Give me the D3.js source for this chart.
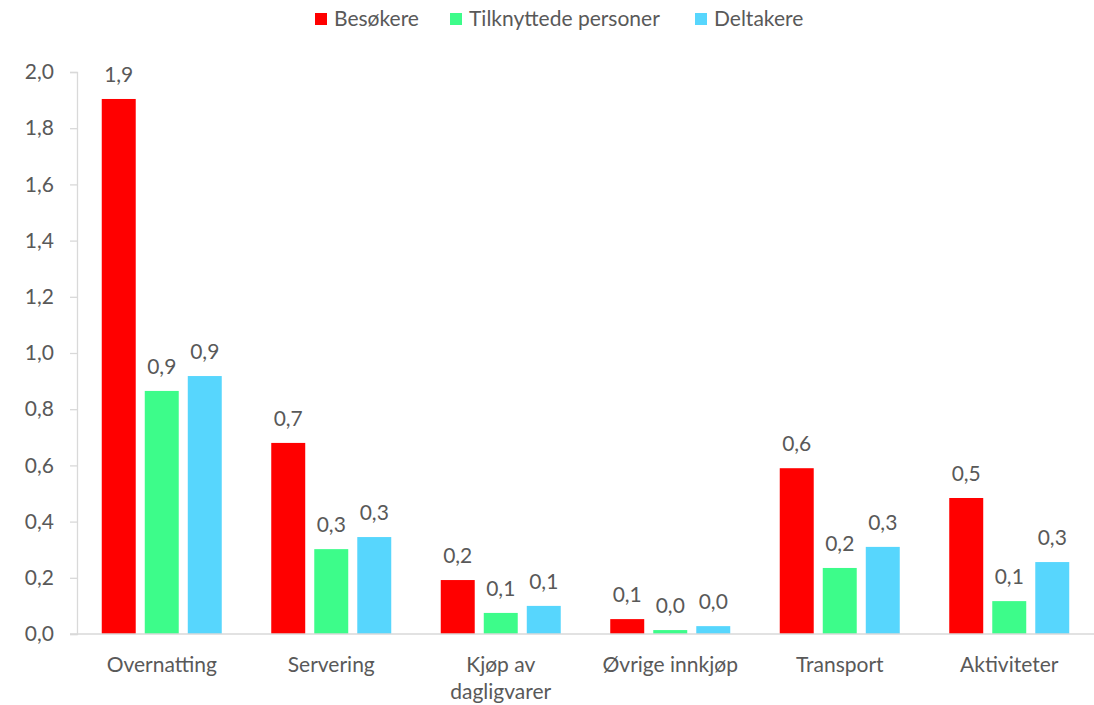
<!DOCTYPE html>
<html>
<head>
<meta charset="utf-8">
<script src="https://cdn.jsdelivr.net/npm/d3@7"></script>
<style>
  html, body { margin: 0; padding: 0; background: #fff; }
  svg text { font-family: Lato, "Open Sans", sans-serif; fill: #595959; }
</style>
</head>
<body>
<div id="chart"></div>
<script>
// Data
const categories = ['Overnatting', 'Servering', 'Kjøp av\ndagligvarer', 'Øvrige innkjøp', 'Transport', 'Aktiviteter'];
const seriesNames = ['Besøkere', 'Tilknyttede personer', 'Deltakere'];
const seriesColors = ['#ff0000', '#3dfc8a', '#57d6fd'];
const besokere = [1.904, 0.68, 0.192, 0.053, 0.59, 0.484];
const tilknyttede = [0.865, 0.302, 0.075, 0.014, 0.235, 0.117];
const deltakere = [0.918, 0.345, 0.10, 0.028, 0.31, 0.256];
const yTicks = [0, 0.2, 0.4, 0.6, 0.8, 1.0, 1.2, 1.4, 1.6, 1.8, 2.0];

const seriesValues = [besokere, tilknyttede, deltakere];

const width = 1094, height = 705;
const margin = { top: 72, right: 0, bottom: 71, left: 77 };
const fontSize = '21px';

const svg = d3.select('#chart').append('svg')
    .attr('width', width)
    .attr('height', height);

const x = d3.scaleBand()
    .domain(d3.range(categories.length))
    .range([margin.left, width - margin.right])
    .padding(0);

const groupWidth = 120;
const xInner = d3.scaleBand()
    .domain(d3.range(seriesNames.length))
    .range([-groupWidth / 2, groupWidth / 2])
    .paddingInner(0.21);

const y = d3.scaleLinear()
    .domain([0, 2])
    .range([height - margin.bottom, margin.top]);

const comma = v => d3.format('.1f')(v).replace('.', ',');

// y axis
const yAxis = svg.append('g')
    .attr('transform', `translate(${margin.left},0)`)
    .call(d3.axisLeft(y).tickValues(yTicks).tickSize(7).tickPadding(10).tickFormat(comma));
yAxis.select('.domain').attr('stroke', '#d9d9d9').attr('stroke-width', 1.3);
yAxis.selectAll('.tick line').attr('stroke', '#d9d9d9').attr('stroke-width', 1.3);
yAxis.selectAll('.tick text').style('font-size', fontSize).attr('fill', '#595959').attr('dx', '-6');

// bars
const groups = svg.append('g').selectAll('g')
    .data(categories)
    .join('g')
    .attr('transform', (d, i) => `translate(${x(i) + x.bandwidth() / 2},0)`);

seriesNames.forEach((name, s) => {
    groups.append('rect')
        .attr('x', xInner(s))
        .attr('width', xInner.bandwidth())
        .attr('y', (d, i) => y(seriesValues[s][i]))
        .attr('height', (d, i) => y(0) - y(seriesValues[s][i]))
        .attr('fill', seriesColors[s]);

    groups.append('text')
        .attr('x', xInner(s) + xInner.bandwidth() / 2)
        .attr('y', (d, i) => y(seriesValues[s][i]) - 17)
        .attr('text-anchor', 'middle')
        .style('font-size', fontSize)
        .text((d, i) => comma(seriesValues[s][i]));
});

// x axis line
svg.append('line')
    .attr('x1', margin.left - 7)
    .attr('x2', width)
    .attr('y1', y(0))
    .attr('y2', y(0))
    .attr('stroke', '#d9d9d9')
    .attr('stroke-width', 1.3);

// category labels
groups.append('text')
    .attr('text-anchor', 'middle')
    .style('font-size', fontSize)
    .selectAll('tspan')
    .data(d => d.split('\n'))
    .join('tspan')
    .attr('x', 0)
    .attr('y', (d, i) => y(0) + 38 + i * 27)
    .text(d => d);

// legend
const legendX = [315, 450, 695];
const legend = svg.append('g').selectAll('g')
    .data(seriesNames)
    .join('g')
    .attr('transform', (d, i) => `translate(${legendX[i]},13)`);
legend.append('rect')
    .attr('width', 12)
    .attr('height', 12)
    .attr('fill', (d, i) => seriesColors[i]);
legend.append('text')
    .attr('x', 19)
    .attr('y', 13)
    .style('font-size', fontSize)
    .text(d => d);
</script>
</body>
</html>
